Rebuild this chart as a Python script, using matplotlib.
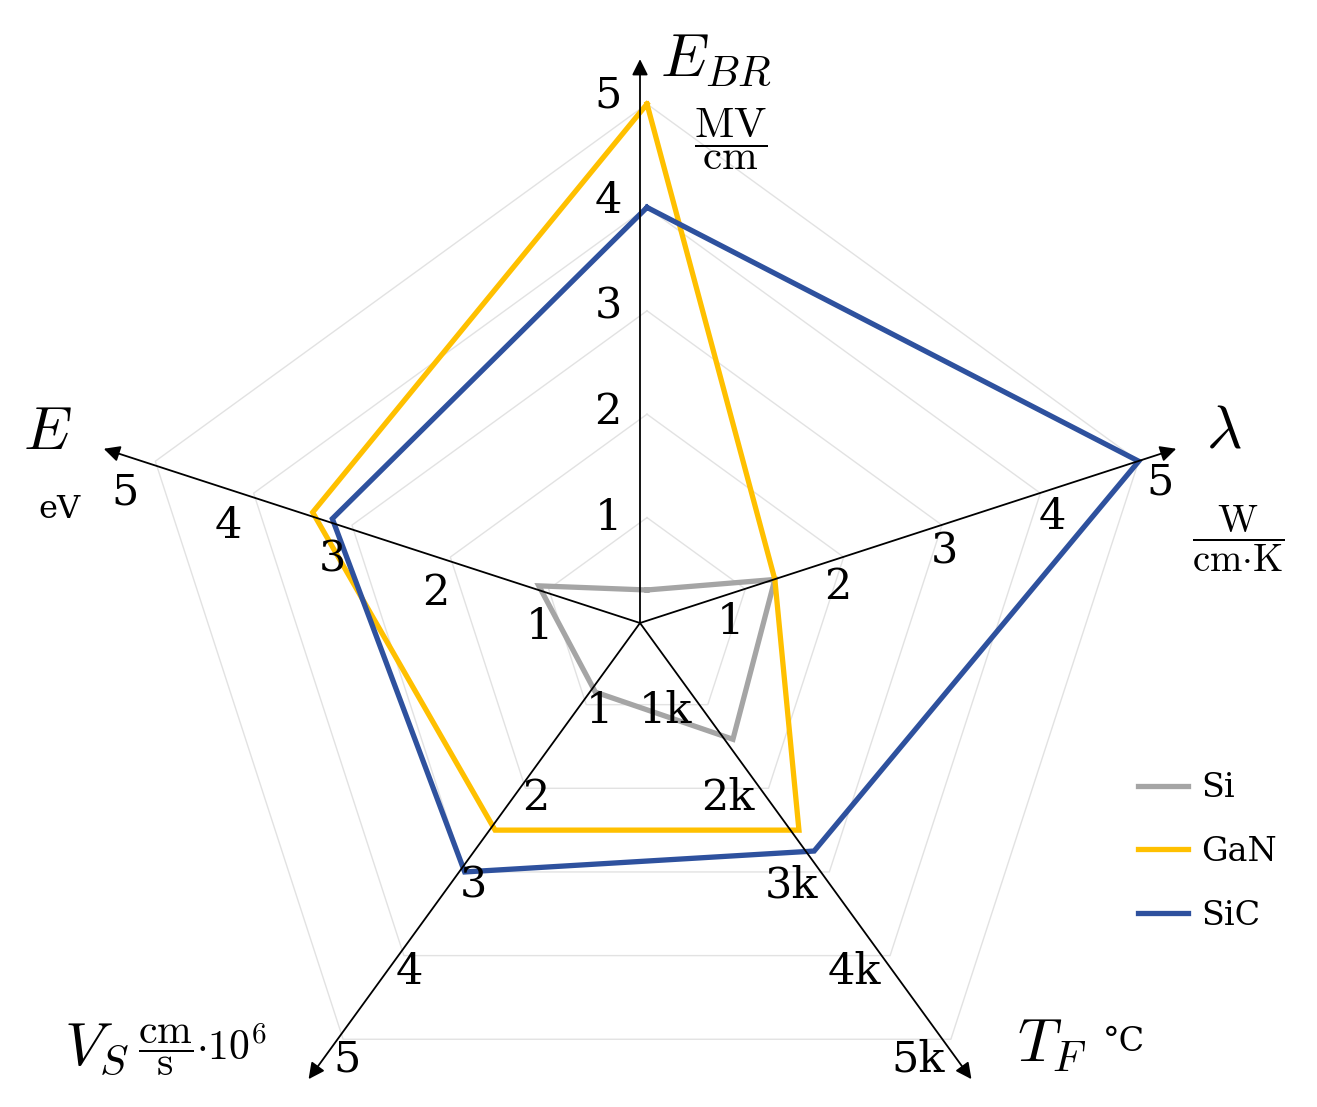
import numpy as np
import matplotlib
matplotlib.use("Agg")
import matplotlib.pyplot as plt

plt.rcParams['mathtext.fontset'] = 'cm'
plt.rcParams['font.family'] = 'DejaVu Serif'

# axes go clockwise from the top: E_BR, lambda, T_F, V_S, E
axis_angles = [90, 18, -54, -126, 162]
materials = ["Si", "GaN", "SiC"]
e_br = [0.3, 5.0, 4.0]        # MV/cm
lam = [1.3, 1.3, 5.0]         # W/(cm K)
t_f = [1414, 2500, 2750]      # deg C
v_s = [0.85, 2.5, 3.0]        # cm/s * 1e6
e_gap = [1.1, 3.4, 3.2]       # eV
tick_vals = [1, 2, 3, 4, 5]
num_ticks = ["1", "2", "3", "4", "5"]
tf_ticks = ["1k", "2k", "3k", "4k", "5k"]
colors = ["#a5a5a5", "#ffc000", "#2e519e"]

W, H = 1317, 1107
fig = plt.figure(figsize=(W / 100, H / 100), dpi=100)


def px_axes(cx, cy, scale):
    # axes over the whole figure, origin at pixel (cx, cy), scale px per unit
    a = fig.add_axes([0, 0, 1, 1])
    a.set_xlim(-cx / scale, (W - cx) / scale)
    a.set_ylim(-(H - cy) / scale, cy / scale)
    a.axis('off')
    a.patch.set_alpha(0)
    return a


def px(x, y):
    return x / W, 1 - y / H


ax = px_axes(647, 621, 103.4)    # radar grid + series
ax2 = px_axes(640, 623, 105)     # drawn arrows + tick labels

th = np.radians(axis_angles + [axis_angles[0]])
for lv in tick_vals:
    ax.plot(lv * np.cos(th), lv * np.sin(th), color='#e2e2e2', lw=1.0, zorder=1)

for i, m in enumerate(materials):
    r = np.array([e_br[i], lam[i], t_f[i] / 1000, v_s[i], e_gap[i]])
    r = np.append(r, r[0])
    ax.plot(r * np.cos(th), r * np.sin(th), color=colors[i], lw=3.8,
            label=m, solid_joinstyle='miter', zorder=2 + i)

# arrows
for a in axis_angles:
    t = np.radians(a)
    ax2.annotate('', xy=(5.37 * np.cos(t), 5.37 * np.sin(t)), xytext=(0, 0),
                 arrowprops=dict(arrowstyle='-|>', color='black', lw=1.3,
                                 mutation_scale=24, shrinkA=0, shrinkB=0))

# tick label placement per axis: step along axis (px), offset (px, y down)
lab_layout = {
    90: (105.75, (-32, 0.75)),
    18: (113, (-17.5, 33.75)),
    -54: (107.5, (-38, 1.5)),
    -126: (107.5, (22.5, 1.5)),
    162: (109, (3, 37.5)),
}
for a in axis_angles:
    t = np.radians(a)
    step, (ox, oy) = lab_layout[a]
    labels = tf_ticks if a == -54 else num_ticks
    for k, lab in zip(tick_vals, labels):
        x = (k * step * np.cos(t) + ox) / 105
        y = (k * step * np.sin(t) - oy) / 105
        ax2.text(x, y, lab, fontsize=31, ha='center', va='center', zorder=10)

# axis titles and units
fig.text(*px(716, 59), r"$E_{BR}$", fontsize=44, ha='center', va='center')
fig.text(*px(731, 139), r"$\dfrac{\mathrm{MV}}{\mathrm{cm}}$", fontsize=31,
         ha='center', va='center')
fig.text(*px(1224, 431), r"$\lambda$", fontsize=44, ha='center', va='center')
fig.text(*px(1238, 539), r"$\dfrac{\mathrm{W}}{\mathrm{cm{\cdot}K}}$", fontsize=28,
         ha='center', va='center')
fig.text(*px(47, 432), r"$E$", fontsize=44, ha='center', va='center')
fig.text(*px(59, 509), "eV", fontsize=23, ha='center', va='center')
fig.text(*px(97, 1048), r"$V_S$", fontsize=44, ha='center', va='center')
fig.text(*px(138, 1050), r"$\dfrac{\mathrm{cm}}{\mathrm{s}}{\cdot}10^{6}$",
         fontsize=30, ha='left', va='center')
fig.text(*px(1052, 1045), r"$T_F$", fontsize=44, ha='center', va='center')
fig.text(*px(1124, 1042), "°C", fontsize=24, ha='center', va='center')

ax.legend(loc='center left', bbox_to_anchor=px(1138, 852),
          bbox_transform=fig.transFigure, frameon=False, fontsize=24,
          handlelength=1.5, handletextpad=0.4, labelspacing=0.95,
          borderpad=0, borderaxespad=0)

fig.savefig("out.png", dpi=100, facecolor='white')
